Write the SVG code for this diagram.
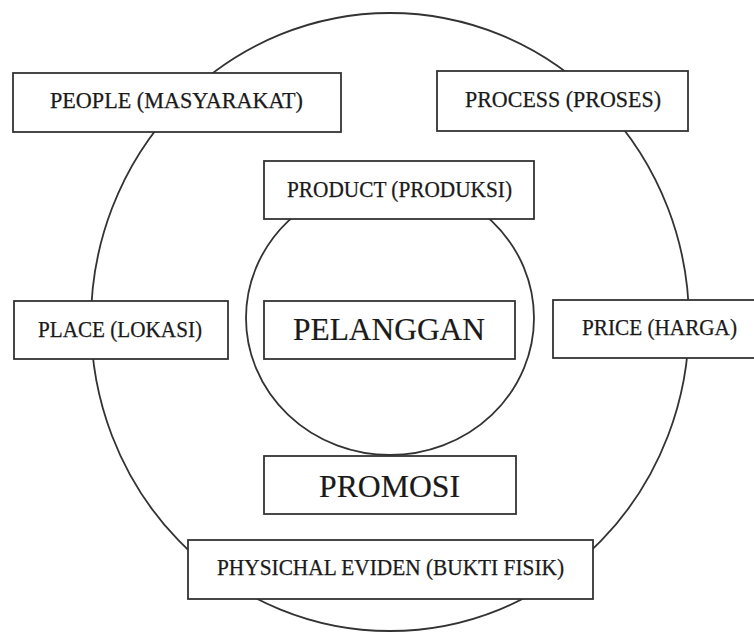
<svg xmlns="http://www.w3.org/2000/svg" width="754" height="633" viewBox="0 0 754 633">
<style>
.ring{fill:none;stroke:#333;stroke-width:1.8}
.box{fill:#fff;stroke:#333;stroke-width:1.8}
.t{font-family:"Liberation Serif","Times New Roman",serif;fill:#1a1a1a;stroke:#1a1a1a;stroke-width:0.25;text-anchor:middle;font-size:23px}
.big{font-size:32.5px;stroke-width:0.2}
</style>
<rect width="754" height="633" fill="#fff"/>
<g id="rings">
<ellipse class="ring" cx="390" cy="322" rx="299" ry="309"/>
<ellipse class="ring" cx="390" cy="318" rx="144" ry="137"/>
</g>
<g id="connectors"></g>
<g id="people"><rect class="box" x="13" y="73" width="328" height="59"/><text class="t" x="176.5" y="108" textLength="253" lengthAdjust="spacingAndGlyphs">PEOPLE  (MASYARAKAT)</text></g>
<g id="process"><rect class="box" x="437" y="71" width="251" height="60"/><text class="t" x="563" y="107" textLength="196" lengthAdjust="spacingAndGlyphs">PROCESS  (PROSES)</text></g>
<g id="product"><rect class="box" x="264" y="161" width="270" height="58"/><text class="t" x="399.5" y="197" textLength="225" lengthAdjust="spacingAndGlyphs">PRODUCT (PRODUKSI)</text></g>
<g id="place"><rect class="box" x="14" y="301" width="214" height="58"/><text class="t" x="120" y="337" textLength="164" lengthAdjust="spacingAndGlyphs">PLACE (LOKASI)</text></g>
<g id="pelanggan"><rect class="box" x="264" y="301" width="251" height="58"/><text class="t big" x="389" y="340" textLength="192" lengthAdjust="spacingAndGlyphs">PELANGGAN</text></g>
<g id="price"><rect class="box" x="553" y="300" width="213" height="58"/><text class="t" x="659.5" y="335" textLength="155" lengthAdjust="spacingAndGlyphs">PRICE (HARGA)</text></g>
<g id="promosi"><rect class="box" x="264" y="456" width="252" height="58"/><text class="t big" x="389.5" y="497" textLength="141" lengthAdjust="spacingAndGlyphs">PROMOSI</text></g>
<g id="physichal"><rect class="box" x="188" y="540" width="405" height="59"/><text class="t" x="390.5" y="575" textLength="347" lengthAdjust="spacingAndGlyphs">PHYSICHAL EVIDEN (BUKTI FISIK)</text></g>
</svg>
